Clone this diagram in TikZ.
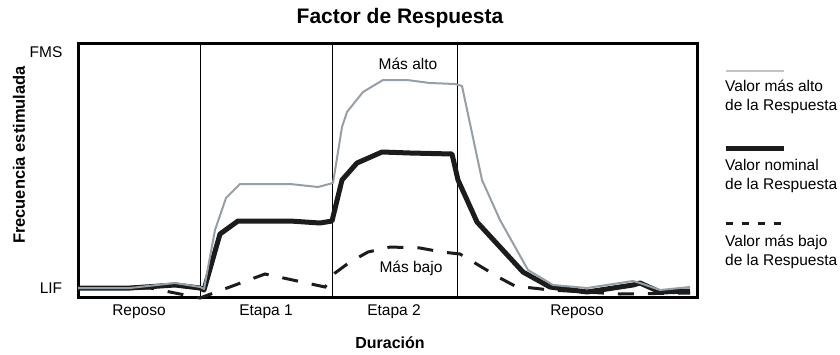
\documentclass[tikz,border=0pt]{standalone}
\usepackage{fontspec}
\setmainfont{Liberation Sans}

\definecolor{altogrey}{RGB}{150,158,166}
\definecolor{leggrey}{RGB}{196,196,196}
\definecolor{nomblack}{RGB}{28,28,28}

\begin{document}
\begin{tikzpicture}[x=1pt, y=-1pt]
	\useasboundingbox (0,0) rectangle (840,354);
	\begin{scope}
		\tikzstyle{every node}=[inner sep=1pt, font=\fontsize{15.5}{19}\selectfont]
		\tikzstyle{alto}=[line width=2pt, color=altogrey, line join=round]
		\tikzstyle{nominal}=[line width=5pt, color=nomblack, line join=round]
		\tikzstyle{bajo}=[line width=3pt, color=nomblack, dash pattern=on 16pt off 14pt]

		% marco y etapas
		\draw [line width=3pt] (78,43) rectangle (697,297);
		\draw [line width=0.8pt] (200,43) -- (200,297);
		\draw [line width=0.8pt] (332,43) -- (332,297);
		\draw [line width=0.8pt] (457,43) -- (457,297);

		% curvas
		\draw [bajo] (78,288) -- (150,288) -- (200,298) -- (265,274) -- (325,287) -- (335,273)
			-- (350,262) -- (368,252) -- (390,247) -- (420,248) -- (442,252) -- (460,254)
			-- (500,278) -- (515,286) -- (550,290) -- (620,294) -- (690,293);
		\draw [nominal] (78,288) -- (130,288) -- (175,285) -- (200,288) -- (204,290) -- (220,234)
			-- (238,221) -- (290,221) -- (320,223) -- (332,221) -- (342,180) -- (357,163)
			-- (382,152) -- (410,153) -- (452,154) -- (458,180) -- (477,222) -- (500,247)
			-- (523,272) -- (550,287) -- (587,292) -- (633,285) -- (640,283) -- (660,292) -- (690,291);
		\draw [alto] (78,288) -- (130,288) -- (175,283) -- (200,287) -- (204,289) -- (215,230)
			-- (226,198) -- (240,184) -- (290,184) -- (318,187) -- (333,183) -- (342,127)
			-- (347,112) -- (363,92) -- (383,80) -- (407,80) -- (430,83) -- (455,84) -- (462,86)
			-- (482,180) -- (500,220) -- (528,270) -- (553,285) -- (587,288) -- (633,281)
			-- (640,283) -- (660,290) -- (690,287);

		% textos
		\node [font=\bfseries\fontsize{21}{24}\selectfont] (title) at (400,18) {Factor de Respuesta};
		\node (fms) at (46,52) {FMS};
		\node (lif) at (51,288) {LIF};
		\node [rotate=90, font=\bfseries\fontsize{16.5}{19}\selectfont] (ylabel) at (19,155) {Frecuencia estimulada};
		\node (reposo1) at (139,312) {Reposo};
		\node (etapa1) at (266,312) {Etapa 1};
		\node (etapa2) at (394,312) {Etapa 2};
		\node (reposo2) at (577,312) {Reposo};
		\node [font=\bfseries\fontsize{16}{19}\selectfont] (duracion) at (390,343) {Duración};
		\node (masalto) at (408,64) {Más alto};
		\node (masbajo) at (411,268) {Más bajo};

		% leyenda
		\draw [line width=2pt, color=leggrey] (726,71) -- (784,71);
		\node [anchor=west, align=left] (legalto) at (724,96.5) {Valor más alto\\de la Respuesta};
		\draw [line width=5pt, color=nomblack] (726,148) -- (784,148);
		\node [anchor=west, align=left] (legnominal) at (724,176) {Valor nominal\\de la Respuesta};
		\draw [line width=3pt, color=nomblack, dash pattern=on 7pt off 9pt] (726,223) -- (784,223);
		\node [anchor=west, align=left] (legbajo) at (724,252) {Valor más bajo\\de la Respuesta};
	\end{scope}
\end{tikzpicture}
\end{document}
